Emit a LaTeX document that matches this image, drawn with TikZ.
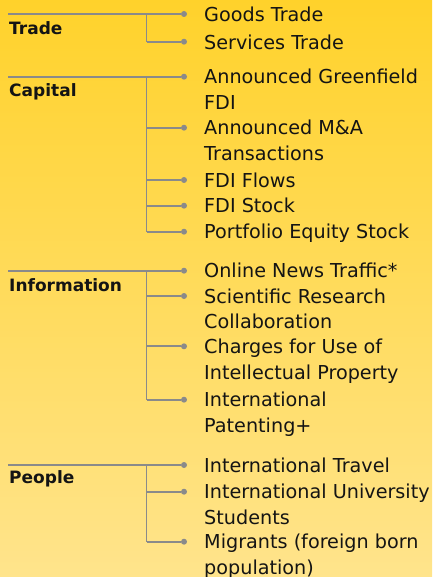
\documentclass[tikz,border=0pt]{standalone}
\usepackage{fontspec}
\setmainfont{DejaVu Sans}
\usetikzlibrary{positioning}

\definecolor{bgtop}{HTML}{FFD22B}
\definecolor{bgbottom}{HTML}{FFE48C}
\definecolor{stemgray}{HTML}{8A8A8A}
\definecolor{ink}{HTML}{141414}

\tikzset{
  stem/.style={draw=stemgray, line width=1.7pt},
  dot/.style={circle, fill=stemgray, inner sep=0pt, minimum size=6pt},
  item/.style={anchor=base west, inner sep=0pt, text=ink,
    font=\fontsize{19.2}{25.7}\selectfont},
  group/.style={anchor=west, inner sep=0pt, text=ink,
    font=\bfseries\fontsize{17}{22}\selectfont}
}

\begin{document}
\begin{tikzpicture}[x=1pt,y=-1pt]
\useasboundingbox (0,0) rectangle (432,577);
\shade[top color=bgtop, bottom color=bgbottom] (0,0) rectangle (432,577);

% Trade
\node[group] (trade) at (9,28.5) {Trade};
\coordinate (trade-start) at (8,14);
\coordinate (trade-fork) at (146.5,14);
\foreach \y/\t [count=\i] in {14/Goods Trade, 41.7/Services Trade}
	{
	\node[dot] (trade-\i) at (184,\y) {};
	\node[item] (trade-t\i) at (204,\y+7.5) {\begin{tabular}[t]{@{}l@{}}\t\end{tabular}};
	\draw[stem] (trade-fork |- trade-\i) -- (trade-\i);
	}
\draw[stem] (trade-start) -- (trade-fork) -- (trade-fork |- trade-2);

% Capital
\node[group] (capital) at (9,91.5) {Capital};
\coordinate (capital-start) at (8,76.7);
\coordinate (capital-fork) at (146.5,76.7);
\foreach \y/\t [count=\i] in {76.7/{Announced Greenfield\\FDI},
	127.7/{Announced M\&A\\Transactions}, 180/FDI Flows,
	205.7/FDI Stock, 231.7/Portfolio Equity Stock}
	{
	\node[dot] (capital-\i) at (184,\y) {};
	\node[item] (capital-t\i) at (204,\y+7) {\begin{tabular}[t]{@{}l@{}}\t\end{tabular}};
	\draw[stem] (capital-fork |- capital-\i) -- (capital-\i);
	}
\draw[stem] (capital-start) -- (capital-fork) -- (capital-fork |- capital-5);

% Information
\node[group] (information) at (9,285) {Information};
\coordinate (information-start) at (8,270.7);
\coordinate (information-fork) at (146.5,270.7);
\foreach \y/\t [count=\i] in {270.7/Online News Traffic*,
	296/{Scientific Research\\Collaboration},
	346.3/{Charges for Use of\\Intellectual Property},
	399.7/{International\\Patenting+}}
	{
	\node[dot] (information-\i) at (184,\y) {};
	\node[item] (information-t\i) at (204,\y+7) {\begin{tabular}[t]{@{}l@{}}\t\end{tabular}};
	\draw[stem] (information-fork |- information-\i) -- (information-\i);
	}
\draw[stem] (information-start) -- (information-fork) -- (information-fork |- information-4);

% People
\node[group] (people) at (9,479.3) {People};
\coordinate (people-start) at (8,465);
\coordinate (people-fork) at (146.5,465);
\foreach \y/\t [count=\i] in {465/International Travel,
	491.7/{International University\\Students},
	541.7/{Migrants (foreign born\\population)}}
	{
	\node[dot] (people-\i) at (184,\y) {};
	\node[item] (people-t\i) at (204,\y+7) {\begin{tabular}[t]{@{}l@{}}\t\end{tabular}};
	\draw[stem] (people-fork |- people-\i) -- (people-\i);
	}
\draw[stem] (people-start) -- (people-fork) -- (people-fork |- people-3);
\end{tikzpicture}
\end{document}
